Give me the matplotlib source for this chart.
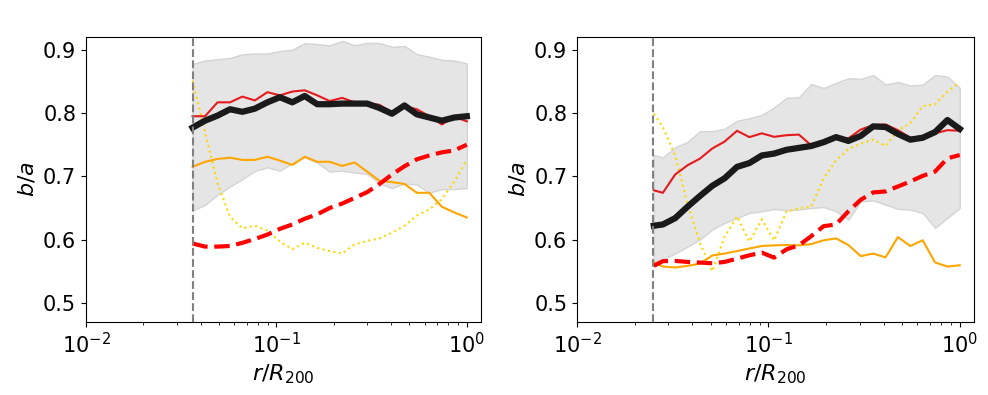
import matplotlib
matplotlib.use("Agg")
import matplotlib.pyplot as plt

# ---------------- data: left panel ----------------
x_left = [0.0363, 0.0422, 0.0491, 0.0571, 0.0663, 0.0771, 0.0897, 0.1043, 0.1213, 0.1409,
          0.1639, 0.1905, 0.2215, 0.2576, 0.2995, 0.3482, 0.4049, 0.4708, 0.5472, 0.6363,
          0.7397, 0.8602, 1.0]
black_left = [0.777, 0.788, 0.796, 0.806, 0.802, 0.807, 0.817, 0.825, 0.817, 0.827,
              0.814, 0.814, 0.815, 0.815, 0.815, 0.808, 0.799, 0.812, 0.798, 0.793,
              0.788, 0.793, 0.795]
red_left = [0.795, 0.795, 0.817, 0.817, 0.826, 0.820, 0.833, 0.828, 0.834, 0.836,
            0.828, 0.819, 0.824, 0.817, 0.816, 0.813, 0.801, 0.811, 0.806, 0.795,
            0.782, 0.794, 0.787]
orange_left = [0.715, 0.723, 0.7275, 0.7295, 0.726, 0.726, 0.731, 0.725, 0.718, 0.731,
               0.723, 0.723, 0.7165, 0.722, 0.7075, 0.693, 0.691, 0.688, 0.674, 0.674,
               0.652, 0.643, 0.635]
dashed_left = [0.594, 0.589, 0.589, 0.590, 0.595, 0.601, 0.608, 0.617, 0.624, 0.633,
               0.640, 0.650, 0.657, 0.666, 0.675, 0.688, 0.703, 0.716, 0.727, 0.733,
               0.738, 0.741, 0.750]
dotted_left = [0.851, 0.770, 0.689, 0.636, 0.618, 0.622, 0.6145, 0.597, 0.585, 0.595,
               0.587, 0.582, 0.578, 0.5925, 0.598, 0.602, 0.611, 0.622, 0.638, 0.648,
               0.664, 0.692, 0.726]
upper_left = [0.8775, 0.883, 0.885, 0.887, 0.893, 0.894, 0.894, 0.898, 0.900, 0.9105,
              0.909, 0.907, 0.914, 0.907, 0.911, 0.9105, 0.9047, 0.906, 0.893, 0.889,
              0.884, 0.883, 0.8785]
lower_left = [0.646, 0.655, 0.671, 0.684, 0.6956, 0.7086, 0.7144, 0.709, 0.7207, 0.730,
              0.7217, 0.7075, 0.709, 0.706, 0.704, 0.689, 0.6815, 0.689, 0.687, 0.674,
              0.680, 0.680, 0.6815]
rmin_left = 0.0363

# ---------------- data: right panel ----------------
x_right = [0.0252, 0.0281, 0.0326, 0.0378, 0.0439, 0.0509, 0.0591, 0.0686, 0.0796, 0.0924,
           0.1072, 0.1244, 0.1444, 0.1676, 0.1945, 0.2258, 0.2620, 0.3041, 0.3530, 0.4097,
           0.4755, 0.5519, 0.6405, 0.7434, 0.8630, 1.0]
black_right = [0.622, 0.624, 0.634, 0.652, 0.669, 0.685, 0.697, 0.715, 0.721, 0.733,
               0.736, 0.742, 0.745, 0.748, 0.754, 0.762, 0.756, 0.764, 0.779, 0.778,
               0.767, 0.758, 0.761, 0.770, 0.789, 0.775]
red_right = [0.678, 0.674, 0.703, 0.7175, 0.728, 0.744, 0.755, 0.772, 0.762, 0.768,
             0.7625, 0.765, 0.766, 0.749, 0.755, 0.761, 0.760, 0.774, 0.781, 0.782,
             0.773, 0.761, 0.7635, 0.768, 0.773, 0.772]
orange_right = [0.564, 0.5575, 0.556, 0.5586, 0.562, 0.575, 0.578, 0.582, 0.586, 0.590,
                0.591, 0.5915, 0.591, 0.593, 0.599, 0.602, 0.5915, 0.574, 0.578, 0.572,
                0.604, 0.590, 0.599, 0.564, 0.5575, 0.5596]
dashed_right = [0.5586, 0.566, 0.5664, 0.5648, 0.5638, 0.5627, 0.5648, 0.570, 0.5753, 0.5795,
                0.5716, 0.5847, 0.591, 0.6056, 0.6213, 0.6239, 0.6448, 0.6631, 0.6746, 0.6762,
                0.684, 0.6919, 0.7008, 0.7076, 0.7285, 0.7337]
dotted_right = [0.799, 0.778, 0.733, 0.657, 0.595, 0.550, 0.605, 0.6365, 0.597, 0.632,
                0.5988, 0.6443, 0.6495, 0.652, 0.697, 0.7256, 0.743, 0.752, 0.758, 0.748,
                0.773, 0.784, 0.811, 0.814, 0.834, 0.848]
upper_right = [0.734, 0.7298, 0.746, 0.7544, 0.7714, 0.7714, 0.7753, 0.7878, 0.7918, 0.797,
               0.8088, 0.824, 0.825, 0.8458, 0.8396, 0.8477, 0.855, 0.854, 0.860, 0.845,
               0.849, 0.8435, 0.845, 0.860, 0.8576, 0.840]
lower_right = [0.566, 0.569, 0.5784, 0.5889, 0.6004, 0.6161, 0.6265, 0.6344, 0.6422, 0.6448,
               0.6485, 0.6464, 0.6475, 0.6501, 0.6516, 0.6448, 0.6318, 0.6605, 0.6621, 0.6553,
               0.6485, 0.6475, 0.6422, 0.6187, 0.6344, 0.6501]
rmin_right = 0.025

yticks = [0.5, 0.6, 0.7, 0.8, 0.9]

fig = plt.figure(figsize=(9.88, 3.95), dpi=100)
ax1 = fig.add_axes([0.087, 0.185, 0.400, 0.721])
ax2 = fig.add_axes([0.584, 0.185, 0.402, 0.721])


def draw(ax, x, black, red, orange, dashed, dotted, upper, lower, rmin):
    ax.fill_between(x, lower, upper, facecolor="#e5e5e5", edgecolor="#d4d4d4",
                    linewidth=1.0, zorder=1)
    ax.plot(x, dotted, color="gold", linestyle=":", linewidth=1.5, zorder=2)
    ax.plot(x, orange, color="orange", linewidth=1.5, zorder=3)
    ax.plot(x, red, color="#e41a1c", linewidth=1.5, zorder=4)
    ax.plot(x, dashed, color="red", linestyle="--", linewidth=3, zorder=5)
    ax.plot(x, black, color="#1a1a1a", linewidth=4.5, zorder=6)
    ax.axvline(rmin, color="gray", linestyle="--", linewidth=1.5, zorder=7)
    ax.set_xscale("log")
    ax.set_xlim(0.01, 1.19)
    ax.set_ylim(0.47, 0.92)
    ax.set_yticks(yticks)
    ax.tick_params(axis="both", which="major", labelsize=15)
    ax.set_xlabel(r"$r/R_{200}$", fontsize=16)
    ax.set_ylabel(r"$b/a$", fontsize=16)


draw(ax1, x_left, black_left, red_left, orange_left, dashed_left, dotted_left,
     upper_left, lower_left, rmin_left)
draw(ax2, x_right, black_right, red_right, orange_right, dashed_right, dotted_right,
     upper_right, lower_right, rmin_right)

fig.savefig("out.png", dpi=100)
